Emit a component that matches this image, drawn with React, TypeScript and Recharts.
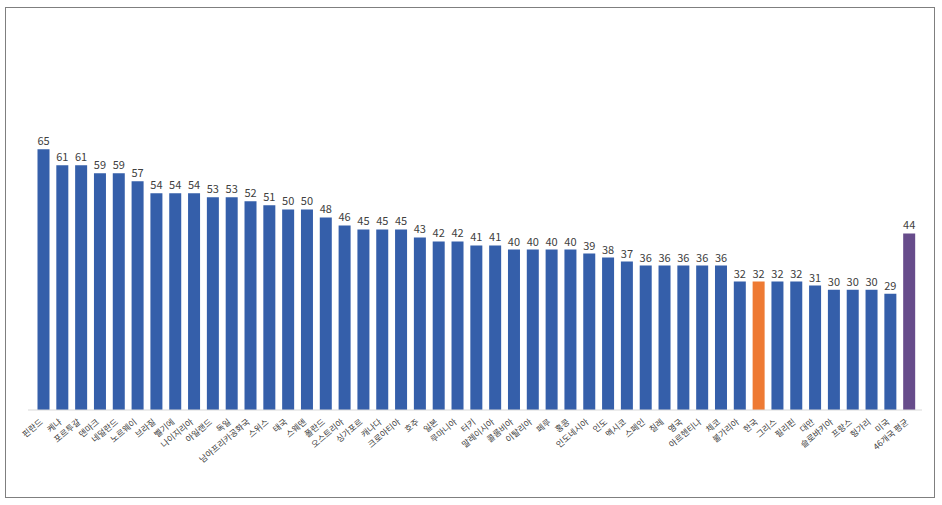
import React from 'react';
import { BarChart, Bar, XAxis, YAxis, Cell, LabelList } from 'recharts';

const countries = [
  '핀란드', '케냐', '포르투갈', '덴마크', '네덜란드', '노르웨이', '브라질', '벨기에', '나이지리아', '아일랜드',
  '독일', '남아프리카공화국', '스위스', '태국', '스웨덴', '폴란드', '오스트리아', '싱가포르', '캐나다', '크로아티아',
  '호주', '일본', '루마니아', '터키', '말레이시아', '콜롬비아', '이탈리아', '페루', '홍콩', '인도네시아',
  '인도', '멕시코', '스페인', '칠레', '영국', '아르헨티나', '체코', '불가리아', '한국', '그리스',
  '필리핀', '대만', '슬로바키아', '프랑스', '헝가리', '미국', '46개국 평균',
];

const trustValues = [
  65, 61, 61, 59, 59, 57, 54, 54, 54, 53,
  53, 52, 51, 50, 50, 48, 46, 45, 45, 45,
  43, 42, 42, 41, 41, 40, 40, 40, 40, 39,
  38, 37, 36, 36, 36, 36, 36, 32, 32, 32,
  32, 31, 30, 30, 30, 29, 44,
];

const highlightKorea = '한국';
const highlightAverage = '46개국 평균';

const BLUE = '#355FAA';
const ORANGE = '#EE7A33';
const PURPLE = '#674C8B';

const data = countries.map((name, i) => ({ name, value: trustValues[i] }));

const FONT = "'Noto Sans CJK KR', 'Noto Sans', sans-serif";

const AngledTick = (props: any) => {
  const { x, y, payload } = props;
  const tx = x - 0.5;
  const ty = y + 13;
  return (
    <g transform={`translate(${tx},${ty}) rotate(-40)`}>
      <text
        x={0}
        y={0}
        textAnchor="end"
        fontSize={8.5}
        fill="#404040"
        fontFamily={FONT}
      >
        {payload.value}
      </text>
    </g>
  );
};

export default function App() {
  return (
    <div
      style={{
        position: 'absolute',
        left: 5,
        top: 7,
        width: 930,
        height: 491,
        boxSizing: 'border-box',
        border: '1px solid #7F7F7F',
        background: '#fff',
      }}
    >
      <BarChart
        width={928}
        height={489}
        data={data}
        margin={{ top: 81, right: 12, bottom: 7, left: 22 }}
        barSize={12}
      >
        <XAxis
          dataKey="name"
          interval={0}
          tickLine={false}
          tickSize={0}
          tickMargin={0}
          height={80}
          padding={{ left: 6.5, right: 3 }}
          axisLine={{ stroke: '#D9D9D9', strokeWidth: 1 }}
          tick={<AngledTick />}
        />
        <YAxis hide domain={[0, 80]} />
        <Bar dataKey="value" isAnimationActive={false}>
          {data.map((d) => (
            <Cell
              key={d.name}
              fill={d.name === highlightKorea ? ORANGE : d.name === highlightAverage ? PURPLE : BLUE}
            />
          ))}
          <LabelList
            dataKey="value"
            position="top"
            offset={4}
            fontSize={11}
            fill="#404040"
            fontFamily={FONT}
          />
        </Bar>
      </BarChart>
    </div>
  );
}
